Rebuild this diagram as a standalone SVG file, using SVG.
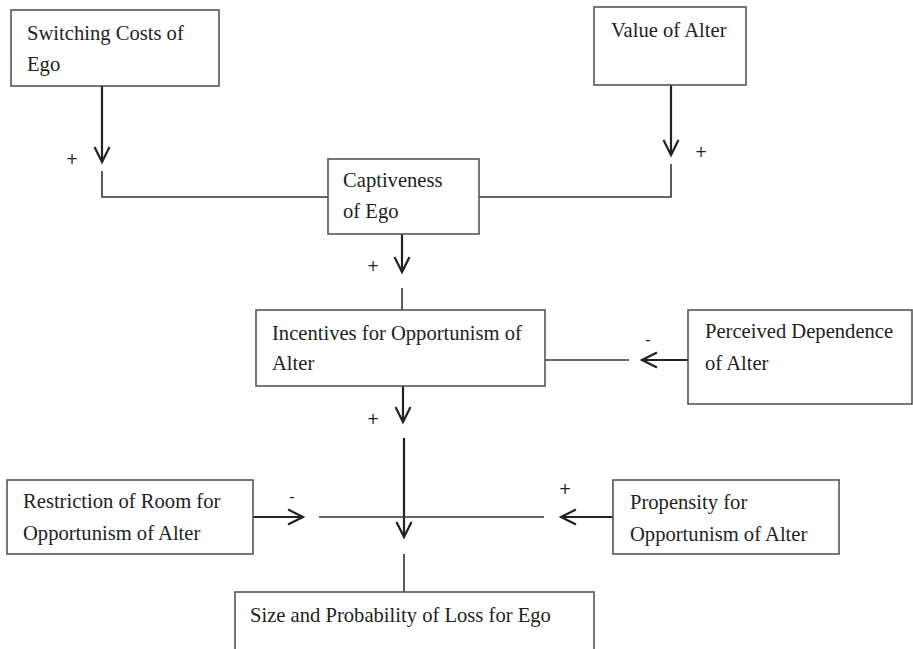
<svg xmlns="http://www.w3.org/2000/svg" width="913" height="649" viewBox="0 0 913 649">
<defs>
<style>
.box{fill:#fff;stroke:#555;stroke-width:1.6}
.t{font-family:"Liberation Serif","Times New Roman",serif;font-size:20.6px;fill:#222}
.s{font-family:"DejaVu Sans","Liberation Sans",sans-serif;font-size:15px;fill:#222;text-anchor:middle}
.ln{fill:none;stroke:#333;stroke-width:1.6}
.ar{fill:none;stroke:#222;stroke-width:2.2}
</style>
<marker id="ah" viewBox="0 0 20 20" markerWidth="20" markerHeight="20" refX="17" refY="10" orient="auto" markerUnits="userSpaceOnUse">
<path d="M2,2.5 L17,10 L2,17.5" fill="none" stroke="#222" stroke-width="2.2"/>
</marker>
</defs>
<rect width="913" height="649" fill="#fff"/>
<g id="connectors">
<line class="ar" x1="102" y1="86" x2="102" y2="162" marker-end="url(#ah)"/>
<path class="ln" d="M102,171 V197 H328"/>
<line class="ar" x1="671" y1="85" x2="671" y2="155" marker-end="url(#ah)"/>
<path class="ln" d="M671,164 V197 H479"/>
<line class="ar" x1="402" y1="234" x2="402" y2="272" marker-end="url(#ah)"/>
<line class="ln" x1="402" y1="288" x2="402" y2="310"/>
<line class="ar" x1="403" y1="386" x2="403" y2="422" marker-end="url(#ah)"/>
<line class="ar" x1="404" y1="438" x2="404" y2="537" marker-end="url(#ah)"/>
<line class="ln" x1="404" y1="554" x2="404" y2="592"/>
<line class="ar" x1="688" y1="360" x2="642" y2="360" marker-end="url(#ah)"/>
<line class="ln" x1="545" y1="360" x2="629" y2="360"/>
<line class="ar" x1="253" y1="517" x2="303" y2="517" marker-end="url(#ah)"/>
<line class="ln" x1="319" y1="517" x2="544" y2="517"/>
<line class="ar" x1="613" y1="517" x2="561" y2="517" marker-end="url(#ah)"/>
<text class="s" x="72" y="164">+</text>
<text class="s" x="701" y="157">+</text>
<text class="s" x="373" y="271">+</text>
<text class="s" x="373" y="424">+</text>
<text class="s" x="565" y="494">+</text>
<text class="s" x="648" y="345">-</text>
<text class="s" x="292" y="502">-</text>
</g>
<g id="n-switching">
<rect class="box" x="11" y="10" width="208" height="76"/>
<text class="t" x="27" y="40">Switching Costs of</text>
<text class="t" x="27" y="71">Ego</text>
</g>
<g id="n-value">
<rect class="box" x="594" y="7" width="152" height="78"/>
<text class="t" x="611" y="37">Value of Alter</text>
</g>
<g id="n-captiveness">
<rect class="box" x="328" y="159" width="151" height="75"/>
<text class="t" x="343" y="187">Captiveness</text>
<text class="t" x="343" y="218">of Ego</text>
</g>
<g id="n-incentives">
<rect class="box" x="256" y="310" width="289" height="76"/>
<text class="t" x="272" y="340">Incentives for Opportunism of</text>
<text class="t" x="272" y="370">Alter</text>
</g>
<g id="n-perceived">
<rect class="box" x="688" y="310" width="224" height="94"/>
<text class="t" x="705" y="338">Perceived Dependence</text>
<text class="t" x="705" y="370">of Alter</text>
</g>
<g id="n-restriction">
<rect class="box" x="7" y="480" width="246" height="74"/>
<text class="t" x="23" y="508">Restriction of Room for</text>
<text class="t" x="23" y="540">Opportunism of Alter</text>
</g>
<g id="n-propensity">
<rect class="box" x="613" y="480" width="226" height="74"/>
<text class="t" x="630" y="509">Propensity for</text>
<text class="t" x="630" y="541">Opportunism of Alter</text>
</g>
<g id="n-size">
<rect class="box" x="235" y="592" width="359" height="70"/>
<text class="t" x="250" y="622">Size and Probability of Loss for Ego</text>
</g>
</svg>
